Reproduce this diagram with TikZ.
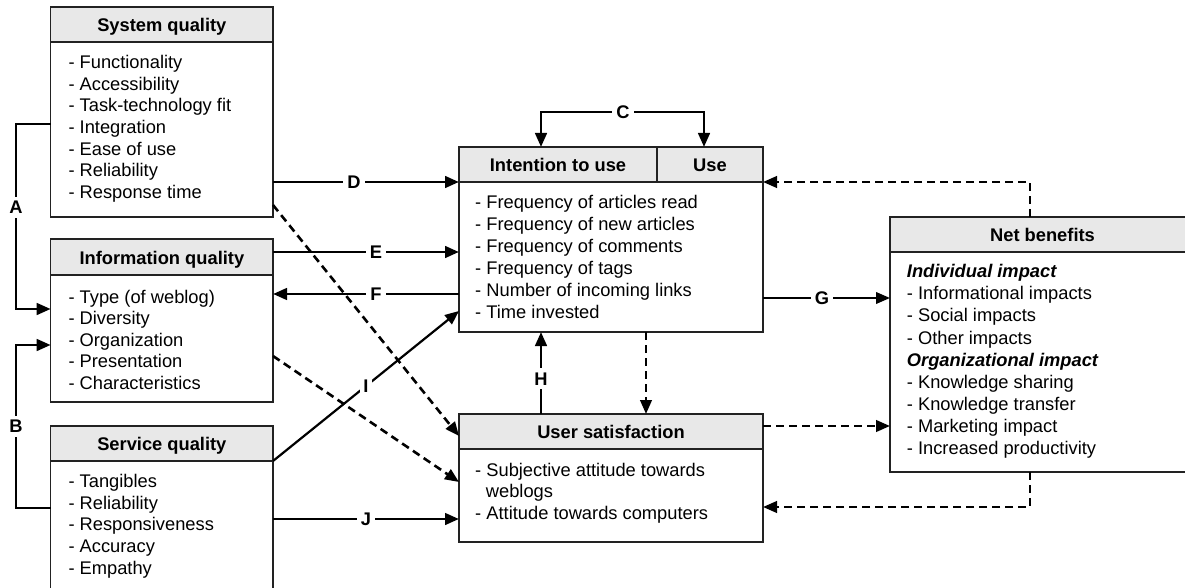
\documentclass[tikz,border=0pt]{standalone}
\usepackage{fontspec}
\setmainfont{Liberation Sans}
\usetikzlibrary{arrows.meta}
\definecolor{hdrfill}{HTML}{E8E8E8}
\definecolor{bd}{HTML}{222222}
\begin{document}
\begin{tikzpicture}[x=1pt,y=-1pt,
  font=\fontsize{18.3}{21.7}\selectfont,
  boxbody/.style={draw=bd, line width=1.3pt, inner sep=0pt, outer sep=0pt, anchor=north west, fill=white},
  boxhead/.style={boxbody, fill=hdrfill, font=\fontsize{18.3}{21.7}\selectfont\bfseries, text height=16.4pt, text depth=2pt},
  item/.style={anchor=base west, inner sep=0pt},
  tip/.style={-{Triangle[length=14pt,width=11.5pt]}},
  conn/.style={line width=2.9pt, tip},
  thinconn/.style={line width=2.2pt, tip},
  dsh/.style={line width=2.6pt, dash pattern=on 8pt off 5pt, tip},
  lbl/.style={fill=white, font=\fontsize{18.3}{21.7}\selectfont\bfseries, inner sep=4pt}
]
\useasboundingbox (0,0) rectangle (1185,588);
\clip (0,0) rectangle (1185,588);

% ---- boxes ----
\node[boxhead, minimum width=222.3pt, minimum height=35pt] (sqh) at (50.7,7) {System quality};
\node[boxbody, minimum width=222.3pt, minimum height=175pt] (sqb) at (50.7,42) {};
\node[boxhead, minimum width=222.3pt, minimum height=36pt] (iqh) at (50.7,239) {Information quality};
\node[boxbody, minimum width=222.3pt, minimum height=127pt] (iqb) at (50.7,275) {};
\node[boxhead, minimum width=222.3pt, minimum height=35pt] (seh) at (50.7,426) {Service quality};
\node[boxbody, minimum width=222.3pt, minimum height=140pt] (seb) at (50.7,461) {};

\node[boxhead, minimum width=198pt, minimum height=35pt] (inth) at (459,147) {Intention to use};
\node[boxhead, minimum width=106pt, minimum height=35pt] (useh) at (657,147) {Use};
\node[boxbody, minimum width=304pt, minimum height=150pt] (intb) at (459,182) {};

\node[boxhead, minimum width=304pt, minimum height=35pt] (ush) at (459,414) {User satisfaction};
\node[boxbody, minimum width=304pt, minimum height=93pt] (usb) at (459,449) {};

\node[boxhead, minimum width=305pt, minimum height=35pt] (nbh) at (890,217) {Net benefits};
\node[boxbody, minimum width=305pt, minimum height=220pt] (nbb) at (890,252) {};

% ---- texts ----
\foreach \t [count=\i] in {Functionality, Accessibility, Task-technology fit, Integration, Ease of use, Reliability, Response time}
  \node[item] (sq\i) at (68.3, {68.5+21.7*(\i-1)}) {- \t};
\foreach \t [count=\i] in {Type (of weblog), Diversity, Organization, Presentation, Characteristics}
  \node[item] (iq\i) at (68.3, {303.3+21.5*(\i-1)}) {- \t};
\foreach \t [count=\i] in {Tangibles, Reliability, Responsiveness, Accuracy, Empathy}
  \node[item] (se\i) at (68.3, {487.3+21.7*(\i-1)}) {- \t};
\foreach \t [count=\i] in {Frequency of articles read, Frequency of new articles, Frequency of comments, Frequency of tags, Number of incoming links, Time invested}
  \node[item] (in\i) at (475, {208.3+22*(\i-1)}) {- \t};
\node[item] (us1) at (475,476) {- Subjective attitude towards};
\node[item] (us2) at (485.7,497.5) {weblogs};
\node[item] (us3) at (475,519.5) {- Attitude towards computers};
\foreach \t [count=\i] in {{\bfseries\itshape Individual impact}, - Informational impacts, - Social impacts, - Other impacts, {\bfseries\itshape Organizational impact}, - Knowledge sharing, - Knowledge transfer, - Marketing impact, - Increased productivity}
  \node[item] (nb\i) at (906.7, {277.7+22.1*(\i-1)}) {\t};

% ---- dashed connectors ----
\draw[dsh] (sqb.east |- 0,205) -- (ush.west |- 0,436);
\draw[dsh] (iqb.east |- 0,356) -- (usb.west |- 0,482);
\draw[dsh] (intb.south -| 646,0) -- (ush.north -| 646,0);
\draw[dsh] (nbh.north -| 1030,0) |- (useh.south east);
\draw[dsh] (ush.east |- 0,426) -- (nbb.west |- 0,426);
\draw[dsh] (nbb.south -| 1030,0) |- (usb.east |- 0,507);

% ---- solid connectors ----
\coordinate (a1) at (16,124);
\coordinate (a2) at (16,309);
\coordinate (b1) at (16,508);
\coordinate (b2) at (16,345);
\coordinate (ctop) at (623,112);
\draw[conn] (sqb.west |- 0,124) -- (a1) -- node[lbl, pos=.45] (lA) {A} (a2) -- (iqb.west |- 0,309);
\draw[conn] (seb.west |- 0,508) -- (b1) -- node[lbl, pos=.5] (lB) {B} (b2) -- (iqb.west |- 0,345);
\draw[line width=2.9pt, {Triangle[length=14pt,width=11.5pt]}-{Triangle[length=14pt,width=11.5pt]}]
  (541,0 |- inth.north) |- (ctop) node[lbl] (lC) {C} -| (704,0 |- useh.north);
\draw[conn] (sqb.east |- 0,182) -- node[lbl, pos=.435] (lD) {D} (intb.north west);
\draw[conn] (iqh.east |- 0,252) -- node[lbl, pos=.554] (lE) {E} (intb.west |- 0,252);
\draw[conn] (intb.west |- 0,294) -- node[lbl, pos=.446] (lF) {F} (iqb.east |- 0,294);
\draw[thinconn] (intb.east |- 0,298) -- node[lbl, pos=.465] (lG) {G} (nbb.west |- 0,298);
\draw[conn] (ush.north -| 541,0) -- node[lbl, pos=.43] (lH) {H} (intb.south -| 541,0);
\draw[thinconn] (seh.south east) -- node[lbl, pos=.5, inner sep=3pt] (lI) {I} (intb.west |- 0,311);
\draw[conn] (seb.east |- 0,519) -- node[lbl, pos=.5] (lJ) {J} (usb.west |- 0,519);
\end{tikzpicture}
\end{document}
